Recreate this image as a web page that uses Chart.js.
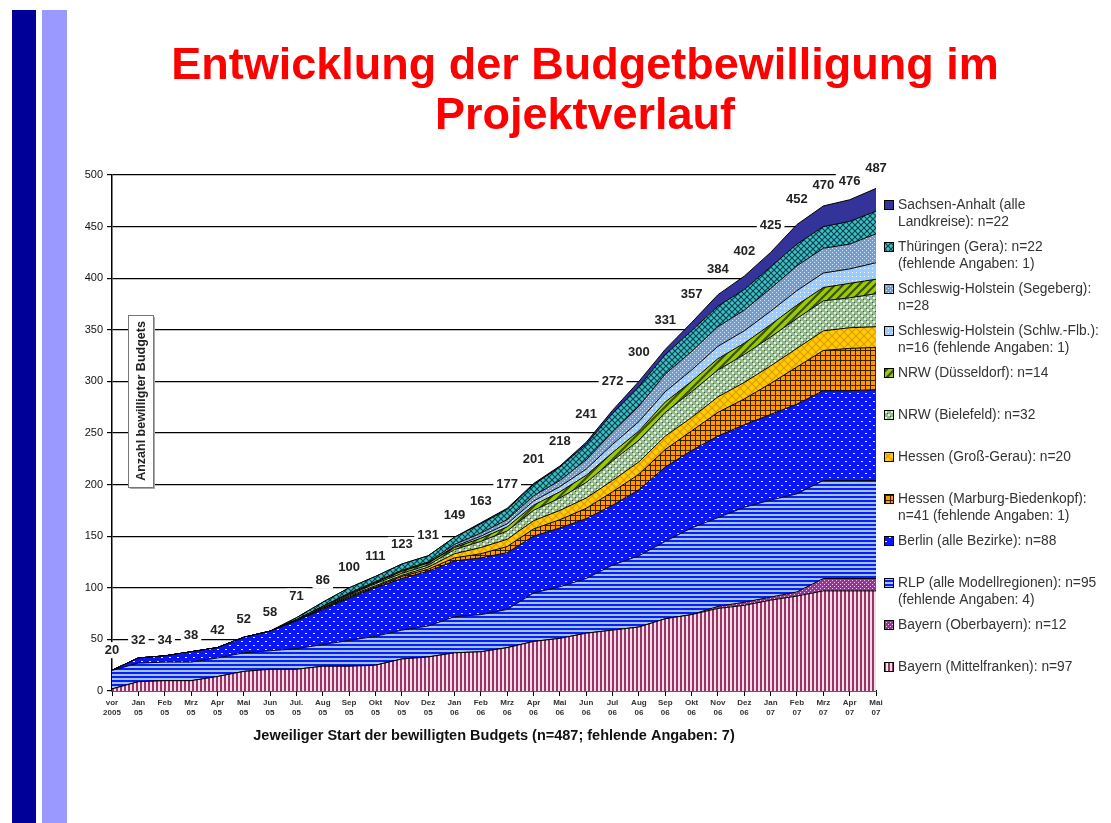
<!DOCTYPE html>
<html>
<head>
<meta charset="utf-8">
<script src="https://cdn.jsdelivr.net/npm/chart.js@4.4.1/dist/chart.umd.min.js"></script>
<style>
    html, body { margin: 0; padding: 0; background: #fff; }
    body { width: 1111px; height: 823px; position: relative; overflow: hidden; font-family: 'Liberation Sans', Arial, sans-serif; }
    .bar1 { position: absolute; left: 12px; top: 10px; width: 24px; height: 813px; background: #000099; }
    .bar2 { position: absolute; left: 42px; top: 10px; width: 25px; height: 813px; background: #9999ff; }
    #title { position: absolute; left: 85px; width: 1000px; top: 39px; text-align: center; color: #ff0000; font-weight: bold; font-size: 45px; line-height: 50px; z-index: 2; }
    #chart { position: absolute; left: 0; top: 0; }
</style>
</head>
<body>
<div class="bar1"></div>
<div class="bar2"></div>
<div id="title">Entwicklung der Budgetbewilligung im<br>Projektverlauf</div>
<canvas id="chart" width="1111" height="823"></canvas>
<script>
// x categories (two-line tick labels)
const categories = [
    ['vor', '2005'], ['Jan', '05'], ['Feb', '05'], ['Mrz', '05'], ['Apr', '05'], ['Mai', '05'], ['Jun', '05'], ['Jul.', '05'],
    ['Aug', '05'], ['Sep', '05'], ['Okt', '05'], ['Nov', '05'], ['Dez', '05'], ['Jan', '06'], ['Feb', '06'], ['Mrz', '06'],
    ['Apr', '06'], ['Mai', '06'], ['Jun', '06'], ['Jul', '06'], ['Aug', '06'], ['Sep', '06'], ['Okt', '06'], ['Nov', '06'],
    ['Dez', '06'], ['Jan', '07'], ['Feb', '07'], ['Mrz', '07'], ['Apr', '07'], ['Mai', '07']
];

// series, bottom of the stack first
const mittelfranken = [2, 9, 10, 10, 14, 19, 21, 21, 24, 24, 25, 31, 33, 37, 38, 42, 48, 51, 56, 59, 62, 70, 74, 80, 83, 88, 92, 97, 97, 97];
const oberbayern    = [0, 0, 0, 0, 0, 0, 0, 0, 0, 0, 0, 0, 0, 0, 0, 0, 0, 0, 0, 0, 0, 0, 0, 2, 3, 3, 4, 12, 12, 12];
const rlp           = [18, 18, 18, 18, 18, 18, 18, 20, 21, 25, 28, 28, 30, 35, 36, 37, 47, 50, 53, 63, 69, 75, 84, 86, 92, 94, 95, 95, 95, 95];
const berlin        = [0, 5, 6, 10, 10, 15, 19, 27, 34, 41, 47, 50, 53, 54, 55, 55, 55, 57, 58, 58, 64, 72, 75, 79, 80, 83, 87, 87, 87, 88];
const marburg       = [0, 0, 0, 0, 0, 0, 0, 0, 1, 1, 1, 2, 2, 3, 4, 6, 7, 8, 10, 13, 15, 17, 19, 23, 25, 30, 36, 39, 41, 41];
const grossGerau    = [0, 0, 0, 0, 0, 0, 0, 0, 0, 1, 1, 1, 2, 4, 6, 7, 8, 9, 10, 11, 12, 13, 13, 15, 16, 17, 18, 19, 20, 20];
const bielefeld     = [0, 0, 0, 0, 0, 0, 0, 0, 1, 1, 2, 2, 2, 4, 6, 8, 10, 12, 15, 19, 21, 23, 25, 26, 27, 28, 29, 29, 29, 32];
const duesseldorf   = [0, 0, 0, 0, 0, 0, 0, 1, 1, 1, 1, 2, 2, 2, 3, 4, 5, 6, 7, 8, 9, 10, 10, 11, 11, 12, 13, 13, 14, 14];
const schleswig     = [0, 0, 0, 0, 0, 0, 0, 0, 0, 0, 0, 0, 0, 1, 2, 3, 4, 5, 6, 8, 9, 10, 11, 12, 12, 13, 14, 14, 14, 16];
const segeberg      = [0, 0, 0, 0, 0, 0, 0, 0, 0, 1, 1, 1, 1, 2, 3, 4, 5, 6, 9, 12, 15, 17, 18, 19, 20, 22, 24, 24, 24, 28];
const thueringen    = [0, 0, 0, 0, 0, 0, 0, 2, 4, 5, 5, 6, 6, 7, 9, 10, 11, 13, 15, 18, 19, 19, 20, 20, 20, 21, 21, 21, 22, 22];
const sachsenAnhalt = [0, 0, 0, 0, 0, 0, 0, 0, 0, 0, 0, 0, 0, 0, 1, 1, 1, 1, 2, 3, 5, 5, 8, 11, 13, 14, 19, 20, 21, 22];

// legend texts, same order as the series (one entry per line)
const seriesNames = [
    ['Bayern (Mittelfranken): n=97'],
    ['Bayern (Oberbayern): n=12'],
    ['RLP (alle Modellregionen): n=95', '(fehlende Angaben: 4)'],
    ['Berlin (alle Bezirke): n=88'],
    ['Hessen (Marburg-Biedenkopf):', 'n=41 (fehlende Angaben: 1)'],
    ['Hessen (Groß-Gerau): n=20'],
    ['NRW (Bielefeld): n=32'],
    ['NRW (Düsseldorf): n=14'],
    ['Schleswig-Holstein (Schlw.-Flb.):', 'n=16 (fehlende Angaben: 1)'],
    ['Schleswig-Holstein (Segeberg):', 'n=28'],
    ['Thüringen (Gera): n=22', '(fehlende Angaben: 1)'],
    ['Sachsen-Anhalt (alle', 'Landkreise): n=22']
];
const seriesValues = [mittelfranken, oberbayern, rlp, berlin, marburg, grossGerau, bielefeld, duesseldorf, schleswig, segeberg, thueringen, sachsenAnhalt];

const FONT = '"Liberation Sans", Arial, sans-serif';
const canvas = document.getElementById('chart');
const mainCtx = canvas.getContext('2d');

function tile(w, h, draw) {
    const c = document.createElement('canvas');
    c.width = w;
    c.height = h;
    draw(c.getContext('2d'));
    return mainCtx.createPattern(c, 'repeat');
}

// fill patterns, same order as the series
const fills = [
    tile(4, 1, g => { g.fillStyle = '#f4dde8'; g.fillRect(0, 0, 4, 1); g.fillStyle = '#963566'; g.fillRect(0, 0, 2, 1); }),
    tile(4, 4, g => { g.fillStyle = '#993399'; g.fillRect(0, 0, 4, 4); g.fillStyle = '#f0c8f0'; g.fillRect(0, 0, 1, 1); g.fillRect(2, 2, 1, 1); }),
    tile(1, 4, g => { g.fillStyle = '#a0c2ff'; g.fillRect(0, 0, 1, 4); g.fillStyle = '#0a1ef8'; g.fillRect(0, 0, 1, 2); }),
    tile(8, 8, g => { g.fillStyle = '#0b17f2'; g.fillRect(0, 0, 8, 8); g.fillStyle = '#e8ecff'; g.fillRect(1, 1, 2, 1); g.fillRect(5, 5, 2, 1); }),
    tile(5, 5, g => { g.fillStyle = '#ff9900'; g.fillRect(0, 0, 5, 5); g.fillStyle = '#3a2000'; g.fillRect(0, 0, 5, 1); g.fillRect(0, 0, 1, 5); }),
    tile(8, 8, g => {
        g.fillStyle = '#ffcc00'; g.fillRect(0, 0, 8, 8);
        g.strokeStyle = '#e09a00'; g.lineWidth = 1.2;
        g.beginPath(); g.moveTo(0, 0); g.lineTo(8, 8); g.moveTo(8, 0); g.lineTo(0, 8); g.stroke();
    }),
    tile(6, 6, g => {
        g.fillStyle = '#93b98d'; g.fillRect(0, 0, 6, 6);
        g.fillStyle = '#e4f3df'; g.fillRect(0, 0, 2, 2); g.fillRect(3, 3, 2, 2);
        g.fillStyle = '#3f5a42'; g.fillRect(2, 2, 1, 1); g.fillRect(5, 5, 1, 1);
    }),
    tile(8, 8, g => {
        g.fillStyle = '#99cc00'; g.fillRect(0, 0, 8, 8);
        g.strokeStyle = '#3d5200'; g.lineWidth = 2.2;
        g.beginPath(); g.moveTo(-1, 9); g.lineTo(9, -1); g.moveTo(-5, 5); g.lineTo(5, -5); g.moveTo(3, 13); g.lineTo(13, 3); g.stroke();
    }),
    tile(4, 4, g => { g.fillStyle = '#99ccff'; g.fillRect(0, 0, 4, 4); g.fillStyle = '#ffffff'; g.fillRect(0, 0, 1, 1); }),
    tile(4, 4, g => { g.fillStyle = '#6f9fd2'; g.fillRect(0, 0, 4, 4); g.fillStyle = '#d8e6f5'; g.fillRect(0, 0, 1, 1); g.fillRect(2, 2, 1, 1); }),
    tile(6, 6, g => {
        g.fillStyle = '#38c4c4'; g.fillRect(0, 0, 6, 6);
        g.strokeStyle = '#0f3f4f'; g.lineWidth = 1.2;
        g.beginPath(); g.moveTo(0, 0); g.lineTo(6, 6); g.moveTo(6, 0); g.lineTo(0, 6); g.stroke();
    }),
    '#333399'
];

const datasets = seriesValues.map((values, i) => ({
    label: seriesNames[i].join(' '),
    data: values,
    backgroundColor: fills[i],
    borderColor: '#000',
    borderWidth: 1,
    pointRadius: 0,
    tension: 0,
    fill: i === 0 ? 'origin' : '-1'
}));

// total above each stack, on a white box
const totalLabels = {
    id: 'totalLabels',
    afterDatasetsDraw(chart) {
        const ctx = chart.ctx;
        const top = chart.getDatasetMeta(chart.data.datasets.length - 1).data;
        ctx.save();
        ctx.font = 'bold 13px ' + FONT;
        ctx.textAlign = 'center';
        ctx.textBaseline = 'middle';
        top.forEach((pt, i) => {
            const total = chart.data.datasets.reduce((s, ds) => s + ds.data[i], 0);
            const a = Math.max(i - 1, 0), b = Math.min(i + 1, top.length - 1);
            const slope = Math.abs(top[b].y - top[a].y) / (b - a);
            const y = pt.y - 14 - 0.5 * slope;
            const text = String(total);
            const w = ctx.measureText(text).width;
            ctx.fillStyle = '#fff';
            ctx.fillRect(pt.x - w / 2 - 3, y - 8, w + 6, 16);
            ctx.fillStyle = '#222';
            ctx.fillText(text, pt.x, y);
        });
        ctx.restore();
    }
};

// boxed vertical axis title inside the plot
const yTitleBox = {
    id: 'yTitleBox',
    afterDatasetsDraw(chart) {
        const ctx = chart.ctx;
        const { left, top } = chart.chartArea;
        const x = left + 16, y = top + 140, w = 25, h = 172;
        ctx.save();
        ctx.fillStyle = '#aaa';
        ctx.fillRect(x + 2, y + 2, w, h);
        ctx.fillStyle = '#fff';
        ctx.fillRect(x, y, w, h);
        ctx.strokeStyle = '#777';
        ctx.lineWidth = 1;
        ctx.strokeRect(x + 0.5, y + 0.5, w, h);
        ctx.translate(x + w / 2, y + h / 2);
        ctx.rotate(-Math.PI / 2);
        ctx.font = 'bold 12.5px ' + FONT;
        ctx.fillStyle = '#222';
        ctx.textAlign = 'center';
        ctx.textBaseline = 'middle';
        ctx.fillText('Anzahl bewilligter Budgets', 0, 1);
        ctx.restore();
    }
};

// legend at the right, top series first
const sideLegend = {
    id: 'sideLegend',
    afterDraw(chart) {
        const ctx = chart.ctx;
        const x = chart.chartArea.right + 8;
        const y0 = chart.chartArea.top + 30;
        ctx.save();
        ctx.font = '13.8px ' + FONT;
        ctx.textBaseline = 'middle';
        const n = chart.data.datasets.length;
        for (let k = 0; k < n; k++) {
            const i = n - 1 - k;
            const y = y0 + k * 42;
            ctx.fillStyle = fills[i];
            ctx.fillRect(x, y - 5, 10, 10);
            ctx.strokeStyle = '#000';
            ctx.lineWidth = 1;
            ctx.strokeRect(x + 0.5, y - 4.5, 9, 9);
            ctx.fillStyle = '#333';
            seriesNames[i].forEach((line, j) => ctx.fillText(line, x + 14, y + j * 17));
        }
        ctx.restore();
    }
};

new Chart(canvas, {
    type: 'line',
    data: { labels: categories, datasets },
    options: {
        responsive: false,
        animation: false,
        devicePixelRatio: 1,
        layout: { padding: { left: 58, top: 175, right: 235, bottom: 74 } },
        plugins: {
            legend: { display: false },
            tooltip: { enabled: false }
        },
        scales: {
            x: {
                type: 'category',
                offset: false,
                afterFit: (scale) => { scale.height = 58; },
                grid: { drawOnChartArea: false, color: '#000', tickLength: 5 },
                border: { color: '#000', width: 1.5 },
                ticks: { autoSkip: false, maxRotation: 0, padding: 2, color: '#333', font: { family: FONT, size: 8, weight: 'bold' } },
                title: {
                    display: true,
                    text: 'Jeweiliger Start der bewilligten Budgets (n=487; fehlende Angaben: 7)',
                    color: '#111',
                    font: { family: FONT, size: 14.5, weight: 'bold' },
                    padding: { top: 0, bottom: 4 }
                }
            },
            y: {
                stacked: true,
                min: 0,
                max: 500,
                afterFit: (scale) => { scale.width = 54; },
                grid: { color: '#000', lineWidth: 1.2, tickLength: 5 },
                border: { color: '#000', width: 1.5 },
                ticks: { stepSize: 50, padding: 4, color: '#111', font: { family: FONT, size: 11 } }
            }
        }
    },
    plugins: [totalLabels, yTitleBox, sideLegend]
});
</script>
</body>
</html>
